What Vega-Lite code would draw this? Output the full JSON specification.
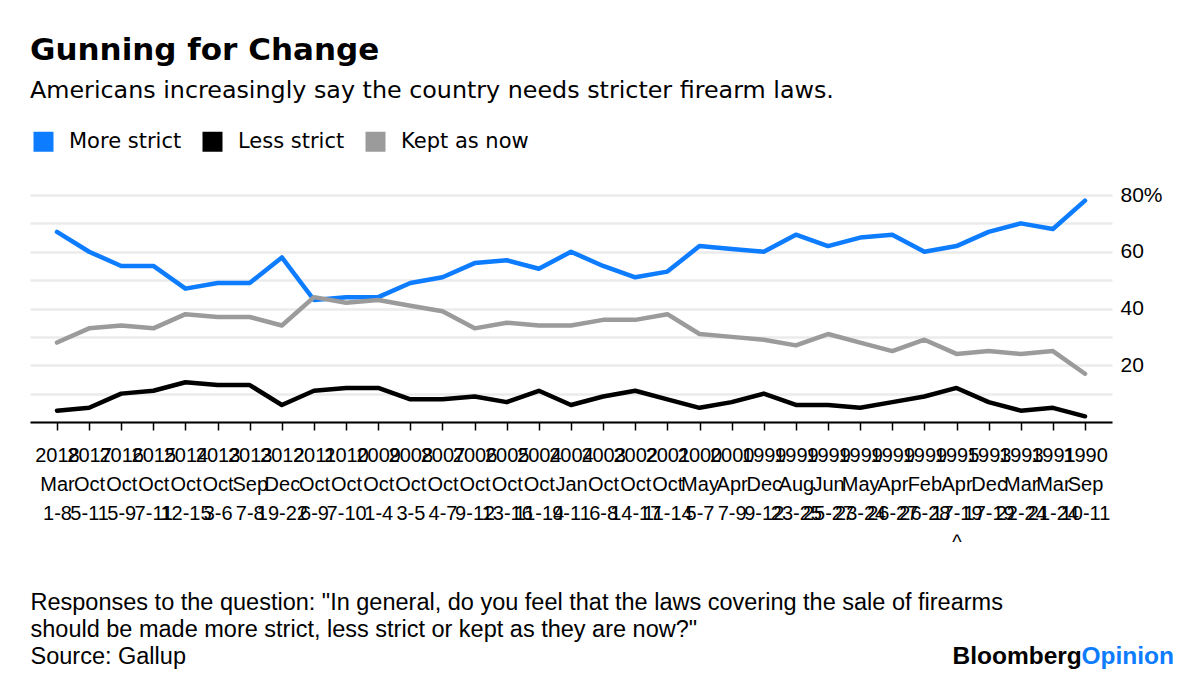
{
  "$schema": "https://vega.github.io/schema/vega-lite/v6.json",
  "width": 1082,
  "height": 227,
  "autosize": {"type": "none"},
  "padding": {"left": 30, "top": 195, "right": 88, "bottom": 260},
  "background": "white",
  "title": {
    "text": "Gunning for Change",
    "subtitle": "Americans increasingly say the country needs stricter firearm laws.",
    "anchor": "start",
    "frame": "group",
    "font": "DejaVu Sans",
    "fontSize": 31,
    "fontWeight": "bold",
    "color": "black",
    "subtitleFont": "DejaVu Sans",
    "subtitleFontSize": 23.8,
    "subtitleColor": "black",
    "subtitlePadding": 12,
    "offset": 27
  },
  "data": {
    "values": [
      {"date": "2018 Mar 1-8", "More strict": 67, "Less strict": 4, "Kept as now": 28},
      {"date": "2017 Oct 5-11", "More strict": 60, "Less strict": 5, "Kept as now": 33},
      {"date": "2016 Oct 5-9", "More strict": 55, "Less strict": 10, "Kept as now": 34},
      {"date": "2015 Oct 7-11", "More strict": 55, "Less strict": 11, "Kept as now": 33},
      {"date": "2014 Oct 12-15", "More strict": 47, "Less strict": 14, "Kept as now": 38},
      {"date": "2013 Oct 3-6", "More strict": 49, "Less strict": 13, "Kept as now": 37},
      {"date": "2013 Sep 7-8", "More strict": 49, "Less strict": 13, "Kept as now": 37},
      {"date": "2012 Dec 19-22", "More strict": 58, "Less strict": 6, "Kept as now": 34},
      {"date": "2011 Oct 6-9", "More strict": 43, "Less strict": 11, "Kept as now": 44},
      {"date": "2010 Oct 7-10", "More strict": 44, "Less strict": 12, "Kept as now": 42},
      {"date": "2009 Oct 1-4", "More strict": 44, "Less strict": 12, "Kept as now": 43},
      {"date": "2008 Oct 3-5", "More strict": 49, "Less strict": 8, "Kept as now": 41},
      {"date": "2007 Oct 4-7", "More strict": 51, "Less strict": 8, "Kept as now": 39},
      {"date": "2006 Oct 9-12", "More strict": 56, "Less strict": 9, "Kept as now": 33},
      {"date": "2005 Oct 13-16", "More strict": 57, "Less strict": 7, "Kept as now": 35},
      {"date": "2004 Oct 11-14", "More strict": 54, "Less strict": 11, "Kept as now": 34},
      {"date": "2004 Jan 9-11", "More strict": 60, "Less strict": 6, "Kept as now": 34},
      {"date": "2003 Oct 6-8", "More strict": 55, "Less strict": 9, "Kept as now": 36},
      {"date": "2002 Oct 14-17", "More strict": 51, "Less strict": 11, "Kept as now": 36},
      {"date": "2001 Oct 11-14", "More strict": 53, "Less strict": 8, "Kept as now": 38},
      {"date": "2000 May 5-7", "More strict": 62, "Less strict": 5, "Kept as now": 31},
      {"date": "2000 Apr 7-9", "More strict": 61, "Less strict": 7, "Kept as now": 30},
      {"date": "1999 Dec 9-12", "More strict": 60, "Less strict": 10, "Kept as now": 29},
      {"date": "1999 Aug 23-25", "More strict": 66, "Less strict": 6, "Kept as now": 27},
      {"date": "1999 Jun 25-27", "More strict": 62, "Less strict": 6, "Kept as now": 31},
      {"date": "1999 May 23-24", "More strict": 65, "Less strict": 5, "Kept as now": 28},
      {"date": "1999 Apr 26-27", "More strict": 66, "Less strict": 7, "Kept as now": 25},
      {"date": "1999 Feb 26-28", "More strict": 60, "Less strict": 9, "Kept as now": 29},
      {"date": "1995 Apr 17-19 ^", "More strict": 62, "Less strict": 12, "Kept as now": 24},
      {"date": "1993 Dec 17-19", "More strict": 67, "Less strict": 7, "Kept as now": 25},
      {"date": "1993 Mar 22-24", "More strict": 70, "Less strict": 4, "Kept as now": 24},
      {"date": "1991 Mar 21-24", "More strict": 68, "Less strict": 5, "Kept as now": 25},
      {"date": "1990 Sep 10-11", "More strict": 78, "Less strict": 2, "Kept as now": 17}
    ]
  },
  "transform": [
    {"fold": ["More strict", "Less strict", "Kept as now"], "as": ["response", "value"]}
  ],
  "layer": [
    {
      "mark": {"type": "line", "strokeWidth": 4.5, "strokeJoin": "round", "strokeCap": "round"},
      "encoding": {
        "x": {
          "field": "date",
          "type": "ordinal",
          "sort": null,
          "scale": {"type": "point", "padding": 0.84},
          "axis": {
            "orient": "bottom",
            "domain": true,
            "domainColor": "black",
            "domainWidth": 2,
            "ticks": true,
            "tickColor": "black",
            "tickSize": 8,
            "tickWidth": 1.5,
            "grid": false,
            "labelAngle": 0,
            "labelExpr": "split(datum.label, ' ')",
            "labelFont": "Liberation Sans",
            "labelFontSize": 20,
            "labelColor": "black",
            "labelLineHeight": 29,
            "labelPadding": 15,
            "labelOverlap": false,
            "labelFlush": false,
            "labelBound": false,
            "title": [
              "Responses to the question: \"In general, do you feel that the laws covering the sale of firearms",
              "should be made more strict, less strict or kept as they are now?\"",
              "Source: Gallup"
            ],
            "titleAnchor": "start",
            "titleAlign": "left",
            "titleBaseline": "top",
            "titleX": 0,
            "titleY": 168,
            "titleFont": "Liberation Sans",
            "titleFontSize": 23.5,
            "titleFontWeight": "normal",
            "titleLineHeight": 27,
            "titleColor": "black"
          }
        },
        "y": {
          "field": "value",
          "type": "quantitative",
          "scale": {"domain": [0, 80], "nice": false},
          "axis": {
            "orient": "right",
            "values": [0, 10, 20, 30, 40, 50, 60, 70, 80],
            "labelExpr": "datum.value == 80 ? '80%' : ((datum.value == 20 || datum.value == 40 || datum.value == 60) ? datum.label : '')",
            "domain": false,
            "ticks": false,
            "grid": true,
            "gridColor": "#ebebeb",
            "gridWidth": 2.5,
            "labelFont": "Liberation Sans",
            "labelFontSize": 21,
            "labelColor": "black",
            "labelPadding": 8,
            "title": "Bloomberg",
            "titleAngle": 0,
            "titleAlign": "left",
            "titleBaseline": "alphabetic",
            "titleX": -160,
            "titleY": 468,
            "titleFont": "Liberation Sans",
            "titleFontSize": 24.5,
            "titleFontWeight": "bold",
            "titleColor": "black"
          }
        },
        "color": {
          "field": "response",
          "type": "nominal",
          "scale": {"domain": ["More strict", "Less strict", "Kept as now"], "range": ["#0e7cff", "#000000", "#9b9b9b"]},
          "legend": {
            "orient": "none",
            "legendX": 3,
            "legendY": -64,
            "direction": "horizontal",
            "title": null,
            "symbolType": "square",
            "symbolSize": 400,
            "symbolStrokeWidth": 0,
            "labelFont": "DejaVu Sans",
            "labelFontSize": 21,
            "labelColor": "black",
            "labelOffset": 15,
            "columnPadding": 20,
            "encode": {"symbols": {"update": {"fill": {"scale": "color", "field": "value"}, "strokeWidth": {"value": 0}}}}
          }
        }
      }
    },
    {
      "mark": {"type": "point", "opacity": 0},
      "encoding": {
        "x": {"field": "date", "type": "ordinal", "sort": null},
        "y": {
          "field": "value",
          "type": "quantitative",
          "scale": {"domain": [0, 80], "nice": false},
          "axis": {
            "orient": "right",
            "domain": false,
            "ticks": false,
            "labels": false,
            "grid": false,
            "title": "Opinion",
            "titleAngle": 0,
            "titleAlign": "left",
            "titleBaseline": "alphabetic",
            "titleX": -31,
            "titleY": 468,
            "titleFont": "Liberation Sans",
            "titleFontSize": 24.5,
            "titleFontWeight": "bold",
            "titleColor": "#0e7cff"
          }
        }
      }
    }
  ],
  "resolve": {"scale": {"y": "independent"}},
  "config": {"view": {"stroke": null}}
}
